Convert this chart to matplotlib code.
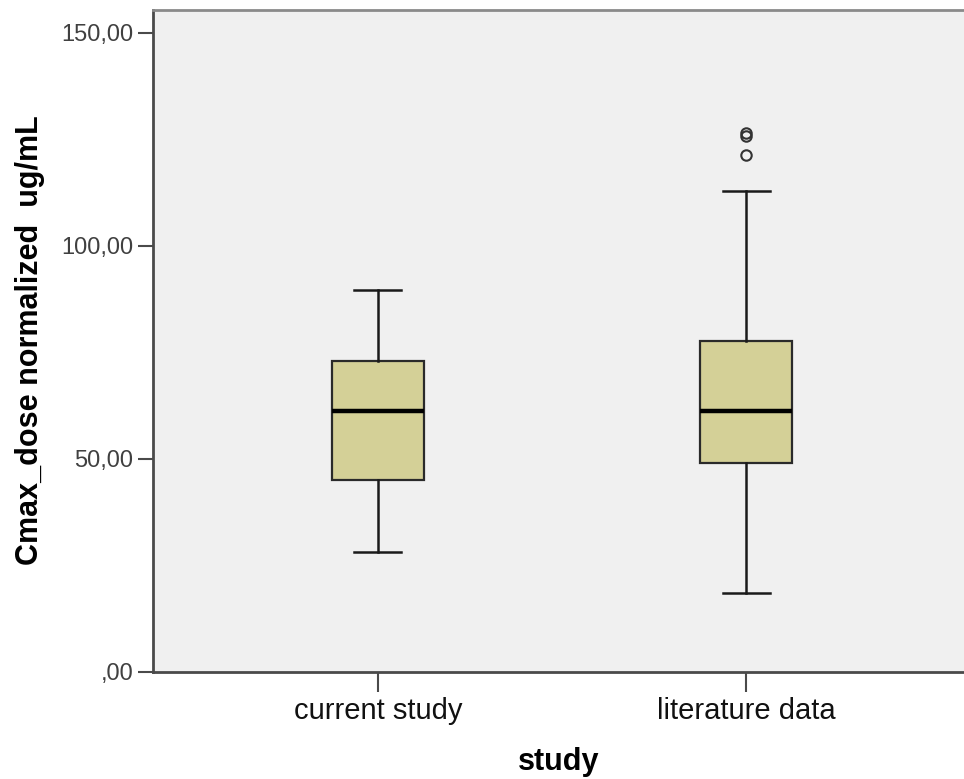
import matplotlib.pyplot as plt
from matplotlib.ticker import FuncFormatter

plt.rcParams['font.family'] = ['Liberation Sans', 'DejaVu Sans']

# dados (boxplot estilo SPSS)
grupos = ['current study', 'literature data']
minimos = [28.1, 18.4]
q1 = [45.0, 49.0]
medianas = [61.2, 61.1]
q3 = [73.0, 77.6]
maximos = [89.6, 112.9]
outliers = [[], [126.3, 125.6, 121.2]]

stats = []
for i in range(len(grupos)):
    stats.append({'label': grupos[i], 'whislo': minimos[i], 'q1': q1[i], 'med': medianas[i],
                  'q3': q3[i], 'whishi': maximos[i], 'fliers': outliers[i]})

fig = plt.figure(figsize=(9.64, 7.79), dpi=100)
ax = fig.add_axes([153 / 964, 107.5 / 779, (964 - 153) / 964, 662 / 779])
ax.set_facecolor('#f0f0f0')

ax.bxp(stats, positions=[1, 2], widths=0.25, capwidths=0.128, patch_artist=True,
       boxprops=dict(facecolor='#d4d097', edgecolor='#2a2a2a', linewidth=1.6),
       medianprops=dict(color='black', linewidth=3.2),
       whiskerprops=dict(color='#1a1a1a', linewidth=1.8),
       capprops=dict(color='#1a1a1a', linewidth=1.8),
       flierprops=dict(marker='o', markersize=7.5, markerfacecolor='none',
                       markeredgecolor='#333333', markeredgewidth=1.5))

ax.set_xlim(1 - 0.611, 2 + 0.592)
ax.set_ylim(0, 155.4)
ax.set_yticks([0, 50, 100, 150])
ax.yaxis.set_major_formatter(FuncFormatter(lambda v, p: ',00' if v == 0 else f'{v:.2f}'.replace('.', ',')))

ax.spines['right'].set_visible(False)
ax.spines['left'].set_color('#4a4a4a')
ax.spines['bottom'].set_color('#4a4a4a')
ax.spines['top'].set_color('#8a8a8a')
for s in ['left', 'bottom', 'top']:
    ax.spines[s].set_linewidth(2)

ax.tick_params(axis='y', length=11, width=1.5, color='#4a4a4a', pad=3, labelsize=17, labelcolor='#404040')
ax.tick_params(axis='x', length=14.4, width=1.5, color='#4a4a4a', pad=4, labelsize=21, labelcolor='#111111')

ax.set_ylabel('Cmax_dose normalized  ug/mL', fontsize=22, fontweight='bold', labelpad=12)
ax.set_xlabel('study', fontsize=22, fontweight='bold', labelpad=16)

fig.savefig('out.png', dpi=100)
